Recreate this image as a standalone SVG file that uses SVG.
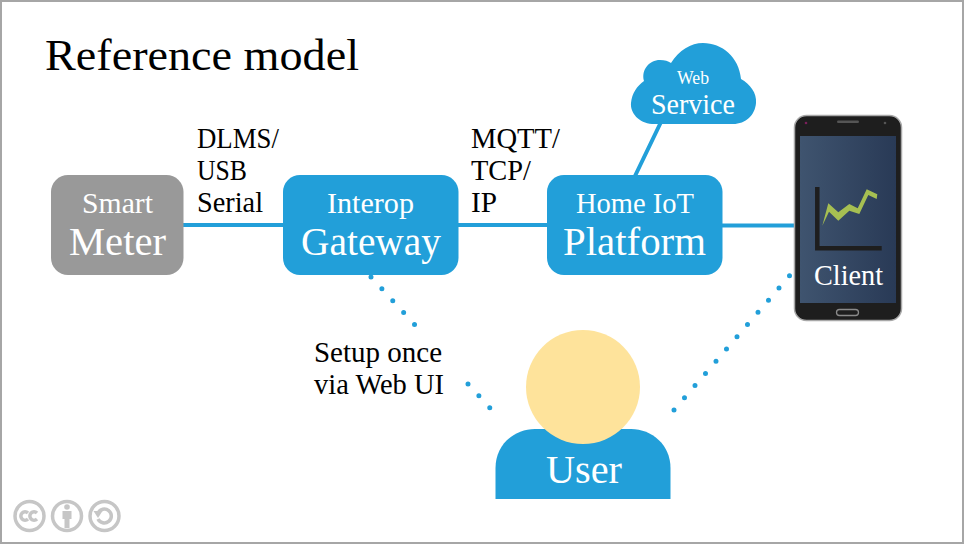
<svg xmlns="http://www.w3.org/2000/svg" width="964" height="544" viewBox="0 0 964 544">
<style>
text{font-family:"Liberation Serif","DejaVu Serif",serif}
.w{fill:#fff;text-anchor:middle}
.k{fill:#000;font-size:28.500px}
.s{font-size:29px}
.l{font-size:40px}
.b{fill:#229fd9}
.c{stroke:#229fd9;fill:none;stroke-width:4}
.d{stroke:#229fd9;fill:none;stroke-width:5;stroke-linecap:round;stroke-dasharray:0 16.100}
.cc{fill:none;stroke:#c6c6c6;stroke-width:3.500}
</style>
<defs><linearGradient id="scr" x1="0" x2="1" y1="0" y2="0"><stop offset="0" stop-color="#3f546f"/><stop offset="1" stop-color="#293a56"/></linearGradient></defs>
<rect x="1" y="1" width="962" height="542" fill="#fff" stroke="#a6a6a6" stroke-width="2"/>
<text id="title" x="45" y="70" font-size="45" fill="#000" textLength="314" lengthAdjust="spacingAndGlyphs">Reference model</text>
<g id="connectors">
<path class="c" d="M183 225H284M458 225H548M722 225.500H796M635 176L661 122"/>
<path class="d" d="M371 277L415 325"/>
<path class="d" d="M468 384L490 408"/>
<path class="d" d="M674 410L791 274"/>
</g>
<g id="cloud">
<path class="b" d="M652 124C639 123 630 113 631 103C632 93 637 86 644 81C641 70 649 60 660 60C665 60 668 61 671 63C679 50 691 43 703 43C722 43 739 57 741 79C750 84 757 93 756 103C755 115 746 124 733 124Z"/>
<text class="w" x="693" y="84" font-size="18" textLength="32" lengthAdjust="spacingAndGlyphs">Web</text>
<text class="w" x="693" y="113.500" font-size="29" textLength="84" lengthAdjust="spacingAndGlyphs">Service</text>
</g>
<g id="meter">
<rect x="51" y="175" width="132.500" height="100" rx="17" fill="#999"/>
<text class="w s" x="117.500" y="212.500" textLength="71" lengthAdjust="spacingAndGlyphs">Smart</text>
<text class="w l" x="117.500" y="254.500" textLength="97" lengthAdjust="spacingAndGlyphs">Meter</text>
</g>
<g id="gateway">
<rect class="b" x="283" y="175" width="175.500" height="100" rx="17"/>
<text class="w s" x="370.500" y="212.500" textLength="87" lengthAdjust="spacingAndGlyphs">Interop</text>
<text class="w l" x="371" y="254.500" textLength="140" lengthAdjust="spacingAndGlyphs">Gateway</text>
</g>
<g id="platform">
<rect class="b" x="547" y="175" width="175.500" height="100" rx="17"/>
<text class="w s" x="635" y="212.500" textLength="118" lengthAdjust="spacingAndGlyphs">Home IoT</text>
<text class="w l" x="634.500" y="254.500" textLength="143" lengthAdjust="spacingAndGlyphs">Platform</text>
</g>
<g id="labels">
<text class="k" x="197" y="147.500" textLength="82" lengthAdjust="spacingAndGlyphs">DLMS/</text>
<text class="k" x="197" y="179.500" textLength="50" lengthAdjust="spacingAndGlyphs">USB</text>
<text class="k" x="197" y="211.500" textLength="66" lengthAdjust="spacingAndGlyphs">Serial</text>
<text class="k" x="471" y="147.500" textLength="89" lengthAdjust="spacingAndGlyphs">MQTT/</text>
<text class="k" x="471" y="179.500" textLength="60" lengthAdjust="spacingAndGlyphs">TCP/</text>
<text class="k" x="471" y="211.500" textLength="26" lengthAdjust="spacingAndGlyphs">IP</text>
<text class="k" x="314" y="362" textLength="128" lengthAdjust="spacingAndGlyphs">Setup once</text>
<text class="k" x="314" y="394" textLength="130" lengthAdjust="spacingAndGlyphs">via Web UI</text>
</g>
<g id="client">
<rect x="794.500" y="115.500" width="107" height="205" rx="12" fill="#1e1e1e" stroke="#a8a8a8" stroke-width="1.500"/>
<rect x="800" y="136" width="96" height="167" fill="url(#scr)"/>
<rect x="837" y="120.500" width="22" height="2.500" rx="1.200" fill="#555"/>
<circle cx="806" cy="123" r="1.300" fill="#7a1f5a"/>
<circle cx="885" cy="123" r="1.300" fill="#555"/>
<rect x="836.500" y="309.500" width="22" height="6" rx="3" fill="none" stroke="#8a8a8a" stroke-width="1.300"/>
<path d="M817.300 187V248.300H881.700" fill="none" stroke="#1e1e1e" stroke-width="4.500"/>
<path d="M822.300 225.700L828.300 203.300L838.300 212.300L849.300 204L857.700 208.300L866.700 189.300L877.300 194.300L876.700 199L868.300 195L859.300 214L849.300 210.700L838.300 220.700L829 211.700Z" fill="#a6bf52"/>
<text class="w" x="848.500" y="285" font-size="29" textLength="69" lengthAdjust="spacingAndGlyphs">Client</text>
</g>
<g id="user">
<path class="b" d="M495.500 499V468C495.500 445 514 429 535 429H631C652 429 670.500 445 670.500 468V499Z"/>
<circle cx="583" cy="387" r="57" fill="#fee39b"/>
<text class="w l" x="584" y="482.500" textLength="76" lengthAdjust="spacingAndGlyphs">User</text>
</g>
<g id="license">
<circle class="cc" cx="29.500" cy="516" r="14.500"/>
<circle class="cc" cx="67" cy="516" r="14.500"/>
<circle class="cc" cx="104.500" cy="516" r="14.500"/>
<path class="cc" stroke-width="2.800" d="M28 513A4.200 4.200 0 1 0 28 519M37 513A4.200 4.200 0 1 0 37 519"/>
<circle cx="67" cy="507" r="2.800" fill="#c6c6c6"/>
<path d="M62.500 511H71.500V519H69.500V528H64.500V519H62.500Z" fill="#c6c6c6"/>
<path class="cc" stroke-width="3" d="M98 513A7 7 0 1 1 98 519"/>
<path d="M93.500 511L102.500 511L98 518Z" fill="#c6c6c6"/>
</g>
</svg>
